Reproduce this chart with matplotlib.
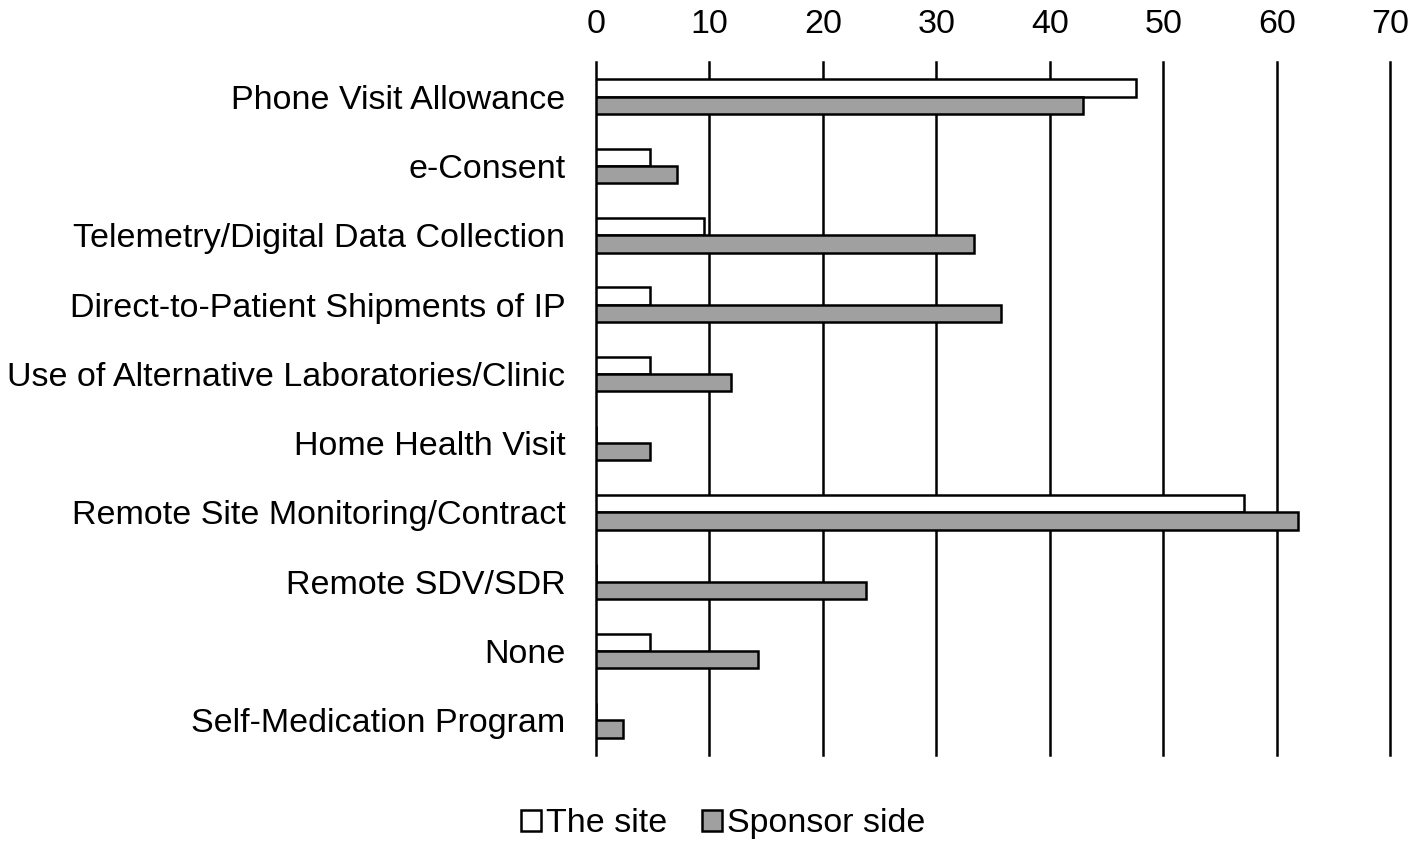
import matplotlib

matplotlib.use("Agg")
import matplotlib.pyplot as plt
import numpy as np

plt.rcParams["font.family"] = ["Liberation Sans", "DejaVu Sans"]

categories = [
    "Phone Visit Allowance",
    "e-Consent",
    "Telemetry/Digital Data Collection",
    "Direct-to-Patient Shipments of IP",
    "Use of Alternative Laboratories/Clinic",
    "Home Health Visit",
    "Remote Site Monitoring/Contract",
    "Remote SDV/SDR",
    "None",
    "Self-Medication Program",
]
site = [47.6, 4.8, 9.5, 4.8, 4.8, 0.0, 57.1, 0.0, 4.8, 0.0]
sponsor = [42.9, 7.1, 33.3, 35.7, 11.9, 4.8, 61.9, 23.8, 14.3, 2.4]
xticks = [0, 10, 20, 30, 40, 50, 60, 70]

fig = plt.figure(figsize=(14.18, 8.48), dpi=100)
ax = fig.add_axes([0.4203, 0.1097, 0.5602, 0.8172])

y = np.arange(len(categories))
h = 0.25
ax.barh(y - h / 2, site, height=h, color="white", edgecolor="black", lw=1.8,
        label="The site", zorder=3)
ax.barh(y + h / 2, sponsor, height=h, color="#a0a0a0", edgecolor="black", lw=1.8,
        label="Sponsor side", zorder=3)

ax.set_xlim(0, 70)
ax.set_ylim(len(categories) - 0.5, -0.5)
ax.set_xticks(xticks)
ax.xaxis.tick_top()
ax.tick_params(axis="x", length=0, labelsize=24.5, pad=16)
ax.set_yticks(y)
ax.set_yticklabels(categories)
ax.tick_params(axis="y", length=0, labelsize=24.5, pad=22)
ax.grid(axis="x", color="black", lw=1.8, zorder=0)
for gl in ax.get_xgridlines():
    gl.set_clip_on(False)
for s in ax.spines.values():
    s.set_visible(False)

fig.legend(loc="lower center", bbox_to_anchor=(0.510, -0.026), ncol=2, frameon=False,
           fontsize=24.5, handlelength=0.6, handleheight=0.6, handletextpad=0.15,
           columnspacing=1.0)

fig.savefig("out.png", dpi=100)
